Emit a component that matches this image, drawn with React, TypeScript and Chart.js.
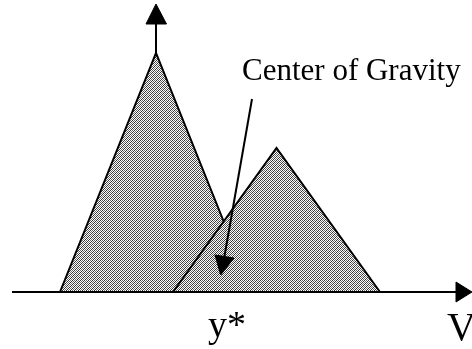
import { useEffect, useRef } from "react";
import { Chart, registerables } from "chart.js";
Chart.register(...registerables);

// Membership functions (x = output variable, y = degree, in drawing units)
const leftTriX = [-96, 0, 96];
const leftTriY = [0, 239, 0];
const rightTriX = [17, 120.5, 224];
const rightTriY = [0, 144, 0];

// Axes
const xAxisX = [-144, 302];
const xAxisY = [0, 0];
const xArrowX = [300, 316, 300, 300];
const xArrowY = [10, 0, -10, 10];
const yAxisX = [0, 0];
const yAxisY = [236, 270];
const yArrowX = [-10, 0, 10.5, -10];
const yArrowY = [268, 288, 268, 268];

// Center-of-gravity pointer
const cogLineX = [96, 68.5];
const cogLineY = [193, 36];
const cogHeadX = [59, 64.7, 78, 59];
const cogHeadY = [37, 17, 34, 37];

// Labels
const labelTexts = ["Center of Gravity", "y*", "V"];
const labelX = [86, 52, 291];
const labelY = [212, -45, -48];
const labelSizes = [31, 38, 40];

const zip = (xs: number[], ys: number[]) => xs.map((x, i) => ({ x, y: ys[i] }));

export default function App() {
  const ref = useRef<HTMLCanvasElement | null>(null);
  useEffect(() => {
    if (!ref.current) return;
    const tile = document.createElement("canvas");
    tile.width = 4;
    tile.height = 4;
    const tc = tile.getContext("2d")!;
    tc.fillStyle = "#ffffff";
    tc.fillRect(0, 0, 4, 4);
    for (let x = 0; x < 4; x++)
      for (let y = 0; y < 4; y++) {
        const s = (x + y) % 4;
        if (s === 0) {
          tc.fillStyle = "#333333";
          tc.fillRect(x, y, 1, 1);
        } else if (s === 2) {
          tc.fillStyle = "#6a6a6a";
          tc.fillRect(x, y, 1, 1);
        }
      }
    const pattern = tc.createPattern(tile, "repeat")!;

    const lineDs = (data: any[], width: number, order: number) => ({
      data,
      showLine: true,
      borderColor: "#000",
      borderWidth: width,
      pointRadius: 0,
      fill: false,
      order,
      tension: 0,
    });
    const headDs = (data: any[], order: number) => ({
      data,
      showLine: true,
      borderColor: "#000",
      backgroundColor: "#000",
      borderWidth: 1,
      pointRadius: 0,
      fill: "shape",
      order,
      tension: 0,
    });
    const triDs = (data: any[], order: number) => ({
      data,
      showLine: true,
      borderColor: "#000",
      backgroundColor: pattern,
      borderWidth: 2,
      pointRadius: 0,
      fill: "origin",
      order,
      tension: 0,
    });

    const labelPlugin = {
      id: "labels",
      afterDatasetsDraw(chart: any) {
        const ctx = chart.ctx;
        const sx = chart.scales.x;
        const sy = chart.scales.y;
        ctx.save();
        ctx.fillStyle = "#000";
        ctx.textBaseline = "alphabetic";
        ctx.textAlign = "left";
        labelTexts.forEach((t, i) => {
          ctx.font = `${labelSizes[i]}px "Liberation Serif", "Times New Roman", serif`;
          ctx.fillText(t, sx.getPixelForValue(labelX[i]), sy.getPixelForValue(labelY[i]));
        });
        ctx.restore();
      },
    };

    const chart = new Chart(ref.current, {
      type: "scatter",
      data: {
        datasets: [
          lineDs(zip(cogLineX, cogLineY), 2, 1),
          headDs(zip(cogHeadX, cogHeadY), 0),
          lineDs(zip(xAxisX, xAxisY), 2, 2),
          headDs(zip(xArrowX, xArrowY), 2),
          lineDs(zip(yAxisX, yAxisY), 2, 2),
          headDs(zip(yArrowX, yArrowY), 2),
          triDs(zip(rightTriX, rightTriY), 3),
          triDs(zip(leftTriX, leftTriY), 4),
        ] as any,
      },
      options: {
        animation: false,
        responsive: false,
        events: [],
        layout: { padding: 0 },
        plugins: { legend: { display: false }, tooltip: { enabled: false } },
        scales: {
          x: { type: "linear", min: -156, max: 316, display: false },
          y: { type: "linear", min: -57, max: 292, display: false },
        },
      } as any,
      plugins: [labelPlugin],
    });
    return () => chart.destroy();
  }, []);

  return (
    <div style={{ position: "fixed", left: 0, top: 0, width: 472, height: 349, background: "#fff" }}>
      <canvas ref={ref} width={472} height={349} style={{ display: "block" }} />
    </div>
  );
}
